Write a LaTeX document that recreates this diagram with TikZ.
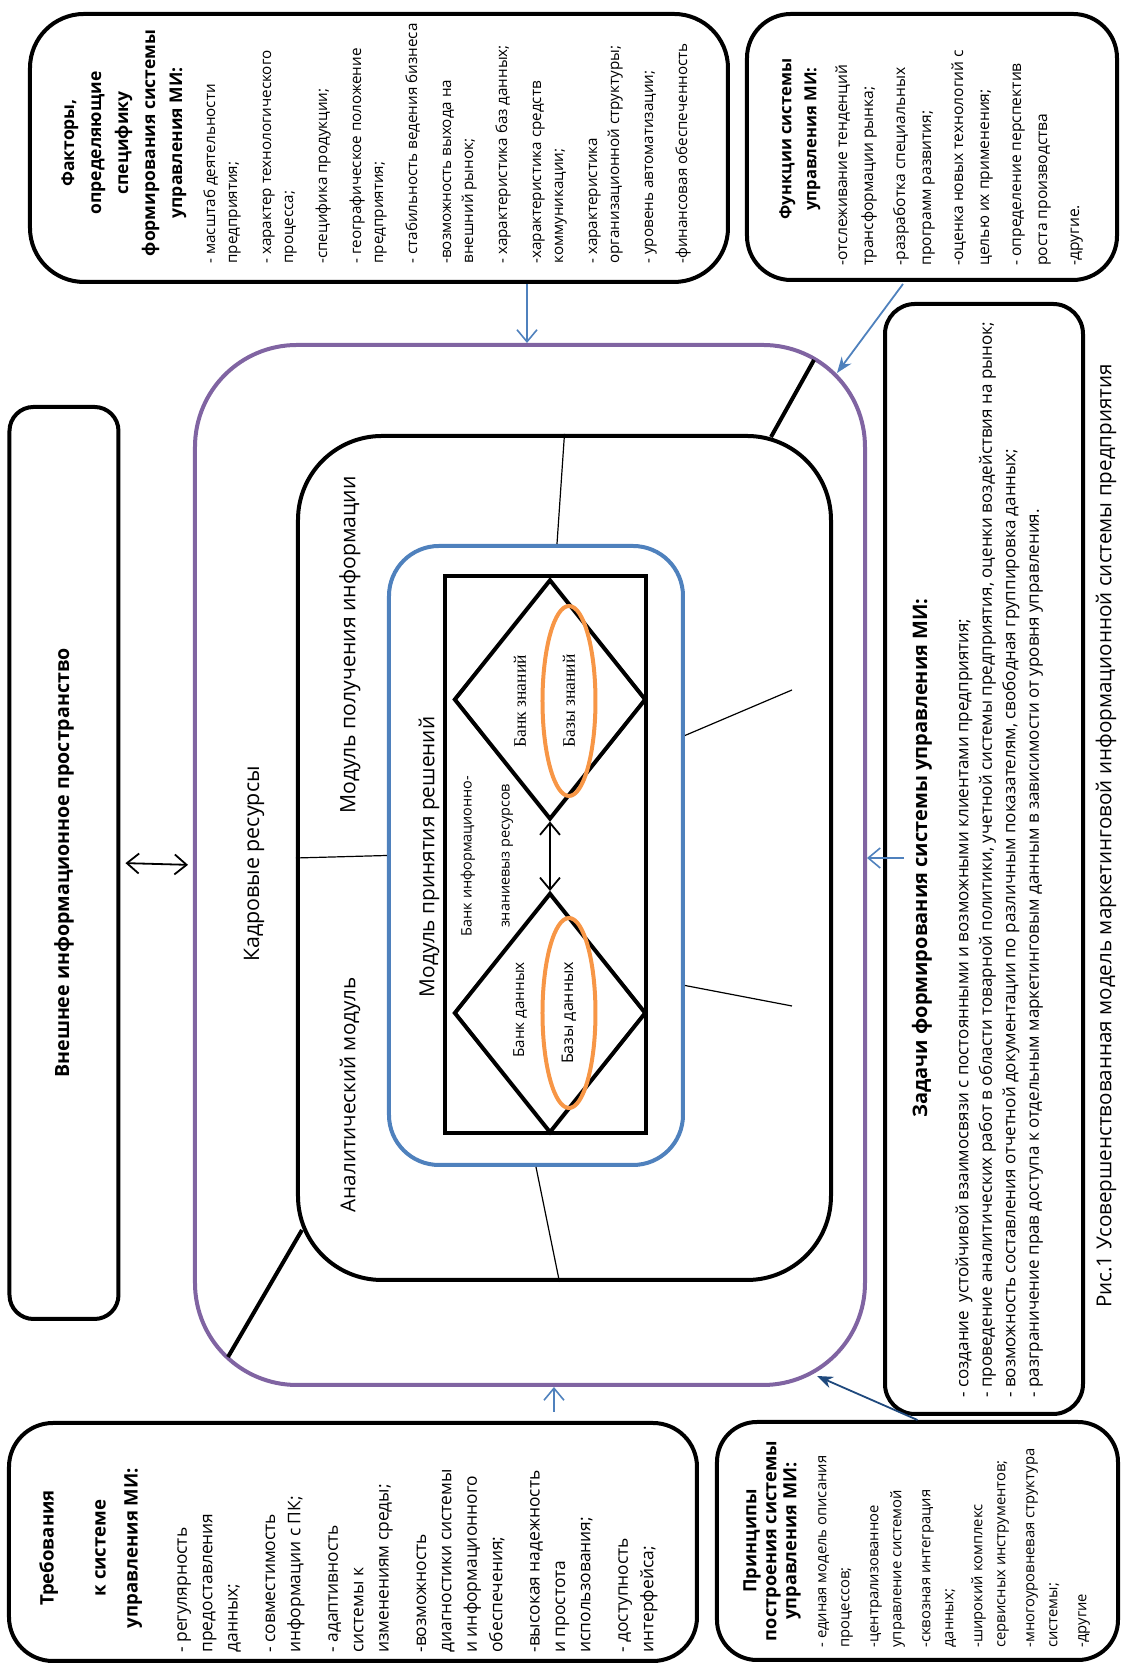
\documentclass[tikz,border=0pt]{standalone}
\usepackage{fontspec}
\setmainfont{Open Sans}
\newfontfamily\serifbank{Liberation Serif}
\usetikzlibrary{shapes.geometric, arrows.meta, calc}
\definecolor{ramkapurple}{RGB}{128,100,162}
\definecolor{modblue}{RGB}{79,129,189}
\definecolor{baseorange}{RGB}{247,150,70}
\definecolor{navyarrow}{RGB}{31,73,125}

\begin{document}
\begin{tikzpicture}[x=0.5pt, y=0.5pt, rotate=90, transform shape,
  bigbox/.style={draw, line width=2pt, rounded corners=#1, inner sep=0pt},
  txt/.style={inner sep=0pt},
  lst/.style={inner sep=0pt, align=left, anchor=north west},
  spoke/.style={line width=2pt},
  link/.style={line width=0.6pt},
  infoarrow/.style={draw=modblue, line width=0.8pt, -{Straight Barb[length=6pt, width=10pt]}},
  fillarrow/.style={line width=0.9pt, -{Stealth[length=8pt, width=6pt]}},
  twoway/.style={line width=0.9pt, {Straight Barb[length=6pt, width=10pt]}-{Straight Barb[length=6pt, width=10pt]}}
]
  \useasboundingbox (0,0) rectangle (1663,1120);

  % The system model
  \node[bigbox=12pt, minimum width=456pt, minimum height=54.5pt, font=\bfseries\fontsize{9.8}{12}\selectfont] (vneshnee) at (800,1056) {Внешнее информационное пространство};
  \node[bigbox=51pt, draw=ramkapurple, minimum width=520pt, minimum height=335pt] (kontur) at (798,590) {};
  \node[bigbox=42pt, minimum width=422pt, minimum height=266.5pt] (moduli) at (805,555.5) {};
  \node[bigbox=25pt, draw=modblue, minimum width=309.5pt, minimum height=147pt] (resheniya) at (807.5,584) {};
  \node[draw, line width=2pt, inner sep=0pt, minimum width=278.5pt, minimum height=100.5pt] (bank) at (808.5,574.5) {};
  \node[diamond, draw, line width=2pt, inner sep=0pt, minimum width=120pt, minimum height=96pt] (bankDannyh) at (650,570) {};
  \node[diamond, draw, line width=2pt, inner sep=0pt, minimum width=120pt, minimum height=96pt] (bankZnaniy) at (963.5,570) {};
  \node[ellipse, draw=baseorange, line width=2pt, inner sep=0pt, minimum width=95pt, minimum height=26.5pt, font=\fontsize{8}{9}\selectfont] (bazyDannyh) at (650,551) {Базы данных};
  \node[ellipse, draw=baseorange, line width=2pt, inner sep=0pt, minimum width=95pt, minimum height=26.5pt, font=\serifbank\fontsize{8.8}{10}\selectfont] (bazyZnaniy) at (962,551) {Базы знаний};

  \node[txt, font=\fontsize{10.7}{12}\selectfont] (kadry) at (799,866) {Кадровые ресурсы};
  \node[txt, font=\fontsize{10.6}{13}\selectfont] (polucheniye) at (1018,770) {Модуль получения информации};
  \node[txt, font=\fontsize{10.3}{13}\selectfont] (analitika) at (568,770) {Аналитический модуль};
  \node[txt, font=\fontsize{10.4}{13}\selectfont] (prinyatie) at (806,691) {Модуль принятия решений};
  \node[txt, align=center, font=\fontsize{7.2}{19}\selectfont] (bankInfo) at (807,633) {Банк информационно-\\знаниевыз ресурсов};
  \node[txt, font=\fontsize{7.6}{9}\selectfont] (bankDannyhText) at (653,600) {Банк данных};
  \node[txt, font=\serifbank\fontsize{8.8}{10}\selectfont] (bankZnaniyText) at (961.5,600) {Банк знаний};

  \draw[twoway, shorten <=2.5pt, shorten >=2.5pt] (vneshnee.south) -- (kontur.north);
  \draw[twoway] (bankDannyh.east) -- (bankZnaniy.west);
  \draw[link] (resheniya.north) -- (moduli.north);
  \draw[link] ($(resheniya.east)+(0,-21)$) -- (moduli.east);
  \draw[link] (resheniya.west) -- ($(moduli.west)+(0,5)$);
  \coordinate (hvostA) at (973,328);
  \coordinate (hvostB) at (657,328);
  \draw[link] ($(resheniya.south)+(120,0)$) -- (hvostA);
  \draw[link] ($(resheniya.south)+(-130,0)$) -- (hvostB);
  \draw[spoke] ($(moduli.south east)+(-3,62)$) -- ($(kontur.south east)+(-17,53)$);
  \draw[spoke] ($(moduli.north west)+(52,-6)$) -- ($(kontur.north west)+(30,-35)$);

  % Surrounding blocks
  \node[bigbox=27pt, minimum width=134pt, minimum height=349pt] (faktory) at (1515,741) {};
  \node[txt, anchor=north, align=center, font=\bfseries\fontsize{8.75}{13.5}\selectfont] (faktoryTitle) at (1520,1059) {Факторы,\\определяющие\\специфику\\формирования системы\\управления МИ:};
  \node[lst, font=\fontsize{7.6}{11}\selectfont] (faktoryList) at (1399,917) {- масштаб деятельности\\предприятия;\\[6pt]- характер технологического\\процесса;\\[6pt]-специфика продукции;\\[6pt]- географическое положение\\предприятия;\\[6pt]- стабильность ведения бизнеса\\[6pt]-возможность выхода на\\внешний рынок;\\[6pt]- характеристика баз данных;\\[6pt]-характеристика средств\\коммуникации;\\[6pt]- характеристика\\организационной структуры;\\[6pt]- уровень автоматизации;\\[6pt]-финансовая обеспеченность};

  \node[bigbox=22pt, minimum width=133pt, minimum height=185pt] (funkcii) at (1516,188) {};
  \node[txt, anchor=north, align=center, font=\bfseries\fontsize{8.3}{12.5}\selectfont] (funkciiTitle) at (1524,341) {Функции системы\\управления МИ:};
  \node[lst, font=\fontsize{7.8}{13}\selectfont] (funkciiList) at (1397,285) {-отслеживание тенденций\\трансформации рынка;\\[3pt]-разработка специальных\\программ развития;\\[3pt]-оценка новых технологий с\\целью их применения;\\[3pt]- определение перспектив\\роста производства\\[3pt]-другие.};

  \node[bigbox=22pt, minimum width=119pt, minimum height=344pt] (trebovaniya) at (121,767) {};
  \node[txt, anchor=north, align=center, font=\bfseries\fontsize{9.3}{16}\selectfont] (trebovaniyaTitle) at (115,1081) {Требования\\[10pt]к системе\\управления МИ:};
  \node[lst, font=\fontsize{8.7}{12.7}\selectfont] (trebovaniyaList) at (10,943) {- регулярность\\предоставления\\данных;\\[6pt]- совместимость\\информации с ПК;\\[6pt]- адаптивность\\системы к\\изменениям среды;\\[6pt]-возможность\\диагностики системы\\и информационного\\обеспечения;\\[6pt]-высокая надежность\\и простота\\использования;\\[6pt]- доступность\\интерфейса;};

  \node[bigbox=20pt, minimum width=119pt, minimum height=200.5pt] (principy) at (122,202.5) {};
  \node[txt, anchor=north, align=center, font=\bfseries\fontsize{9.1}{10}\selectfont] (principyTitle) at (122,377) {Принципы\\построения системы\\управления МИ:};
  \node[lst, font=\fontsize{7.4}{11.5}\selectfont] (principyList) at (15,302) {- единая модель описания\\процессов;\\[3pt]-централизованное\\управление системой\\[3pt]-сквозная интеграция\\данных;\\[3pt]-широкий комплекс\\сервисных инструментов;\\[3pt]-многоуровневая структура\\системы;\\[3pt]-другие};

  \node[bigbox=15pt, minimum width=555pt, minimum height=99pt] (zadachi) at (804,136) {};
  \node[txt, font=\bfseries\fontsize{10}{12}\selectfont] (zadachiTitle) at (805,198) {Задачи формирования системы управления МИ:};
  \node[lst, font=\fontsize{8.5}{11.75}\selectfont] (zadachiList) at (265,165) {- создание\ \ устойчивой взаимосвязи с постоянными и возможными клиентами предприятия;\\- проведение аналитических работ в области товарной политики, учетной системы предприятия, оценки воздействия на рынок;\\- возможность составления отчетной документации по различным показателям, свободная группировка данных;\\- разграничение прав доступа к отдельным маркетинговым данным в зависимости от уровня управления.};

  \node[txt, font=\fontsize{10.3}{13}\selectfont] (podpis) at (827,14) {Рис.1 Усовершенствованная модель маркетинговой информационной системы предприятия};

  % Links to the contour
  \draw[infoarrow] ($(faktory.west)+(0,-148)$) -- ($(kontur.east)+(0,3)$);
  \draw[infoarrow] ($(trebovaniya.east)+(9,-201)$) -- ($(kontur.west)+(0,-24)$);
  \draw[infoarrow] ($(zadachi.north)+(1,-21)$) -- ($(kontur.south)+(7,0)$);
  \draw[fillarrow, modblue] ($(funkcii.west)+(-2,29)$) -- ($(kontur.south east)+(-30,30)$);
  \draw[fillarrow, navyarrow] (principy.east) -- ($(kontur.south west)+(11,50)$);
\end{tikzpicture}
\end{document}
